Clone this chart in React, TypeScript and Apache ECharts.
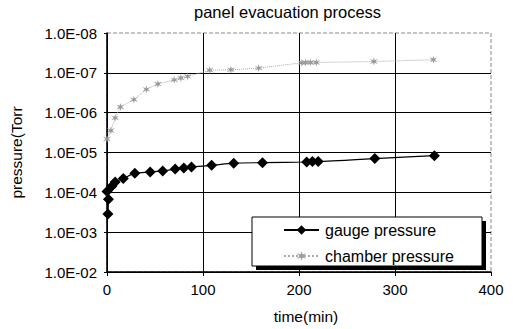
import React, { useEffect, useRef } from "react";
import * as echarts from "echarts";

const titleText = "panel evacuation process";
const xName = "time(min)";
const yName = "pressure(Torr";
const yTickLabels = ["1.0E-08", "1.0E-07", "1.0E-06", "1.0E-05", "1.0E-04", "1.0E-03", "1.0E-02"];
const seriesNames = ["gauge pressure", "chamber pressure"];

const gaugeTime = [1, 1.5, 0, 5, 8.5, 17, 29, 45, 58, 71, 80, 88, 109, 132, 162, 208, 214, 220, 279, 341];
const gaugePressure = [
  3.5e-4, 1.5e-4, 9.5e-5, 7e-5, 5.5e-5, 4.5e-5, 3.3e-5, 3.1e-5, 2.9e-5, 2.6e-5, 2.45e-5, 2.3e-5,
  2.1e-5, 1.85e-5, 1.8e-5, 1.73e-5, 1.68e-5, 1.68e-5, 1.42e-5, 1.2e-5,
];

const chamberTime = [0, 4, 8.5, 14, 28, 41, 53, 70, 77, 84, 107, 129, 158, 203, 207, 212, 218, 278, 340];
const chamberPressure = [
  4.6e-6, 2.8e-6, 1.35e-6, 7.2e-7, 4.7e-7, 2.6e-7, 1.9e-7, 1.5e-7, 1.35e-7, 1.23e-7, 8.6e-8,
  8.4e-8, 7.6e-8, 5.6e-8, 5.5e-8, 5.5e-8, 5.5e-8, 5.2e-8, 4.7e-8,
];

const FONT = "'Liberation Sans', Arial, sans-serif";

export default function App() {
  const ref = useRef<HTMLDivElement>(null);
  useEffect(() => {
    if (!ref.current) return;
    const chart = echarts.init(ref.current, null, { renderer: "svg" });
    chart.setOption({
      animation: false,
      backgroundColor: "#fff",
      textStyle: { fontFamily: FONT },
      title: {
        text: titleText,
        left: 194,
        top: 3,
        padding: 0,
        textStyle: { fontFamily: FONT, fontSize: 16.5, fontWeight: "normal", color: "#000" },
      },
      grid: {
        left: 105,
        right: 23,
        top: 33,
        bottom: 56,
        show: true,
        borderColor: "#888",
        borderWidth: 1,
        borderType: "dashed",
        backgroundColor: "transparent",
      },
      graphic: [
        {
          type: "rect",
          z: 3,
          shape: { x: 256, y: 221, width: 230, height: 49 },
          style: { fill: "#000" },
        },
        {
          type: "rect",
          z: 3,
          shape: { x: 252, y: 217, width: 230, height: 49 },
          style: { fill: "#fff", stroke: "#000", lineWidth: 1 },
        },
      ],
      xAxis: {
        type: "value",
        min: 0,
        max: 400,
        interval: 100,
        name: xName,
        nameLocation: "middle",
        nameGap: 36,
        nameTextStyle: { fontFamily: FONT, fontSize: 15.5, color: "#000", padding: [0, 0, 0, 14] },
        axisLine: { show: true, lineStyle: { color: "#000", width: 1.5 } },
        axisTick: { show: true, inside: false, length: 4, lineStyle: { color: "#000" } },
        axisLabel: { fontFamily: FONT, fontSize: 15, color: "#000", margin: 10 },
        splitLine: { show: true, showMaxLine: false, lineStyle: { color: "#000", width: 1 } },
      },
      yAxis: {
        type: "log",
        logBase: 10,
        min: 1e-8,
        max: 1e-2,
        inverse: true,
        name: yName,
        nameLocation: "middle",
        nameGap: 83,
        nameRotate: 90,
        nameTextStyle: { fontFamily: FONT, fontSize: 15.5, color: "#000" },
        axisLine: { show: true, lineStyle: { color: "#000", width: 1.5 } },
        axisTick: { show: true, inside: false, length: 3, lineStyle: { color: "#000" } },
        axisLabel: {
          fontFamily: FONT,
          fontSize: 15,
          color: "#000",
          margin: 10,
          formatter: (v: number) => {
            const i = Math.round(Math.log10(v)) + 8;
            return yTickLabels[i] ?? "";
          },
        },
        splitLine: { show: true, showMinLine: false, lineStyle: { color: "#000", width: 1 } },
      },
      legend: {
        orient: "vertical",
        left: 252,
        top: 217,
        z: 10,
        padding: [5, 10, 4, 31],
        itemGap: 10,
        itemWidth: 35,
        itemHeight: 12,
        backgroundColor: "transparent",
        borderWidth: 0,
        textStyle: { fontFamily: FONT, fontSize: 16, color: "#000", padding: [0, 0, 0, 1] },
        data: seriesNames,
      },
      series: [
        {
          name: seriesNames[0],
          type: "line",
          data: gaugeTime.map((t, i) => [t, gaugePressure[i]]),
          symbol: "diamond",
          symbolSize: 11,
          smooth: 0.2,
          itemStyle: { color: "#000" },
          lineStyle: { color: "#000", width: 1.2 },
          z: 2,
        },
        {
          name: seriesNames[1],
          type: "line",
          data: chamberTime.map((t, i) => [t, chamberPressure[i]]),
          symbol:
            "path://M5,0 L6,3.5 L10,2 L7,5 L10,8 L6,6.5 L5,10 L4,6.5 L0,8 L3,5 L0,2 L4,3.5 Z",
          symbolSize: 8,
          itemStyle: { color: "#9a9a9a" },
          lineStyle: { color: "#aaa", width: 1, type: "dotted" },
          z: 2,
        },
      ],
    });
    return () => chart.dispose();
  }, []);
  return <div ref={ref} style={{ width: 514, height: 329, position: "absolute", left: 0, top: 0 }} />;
}
